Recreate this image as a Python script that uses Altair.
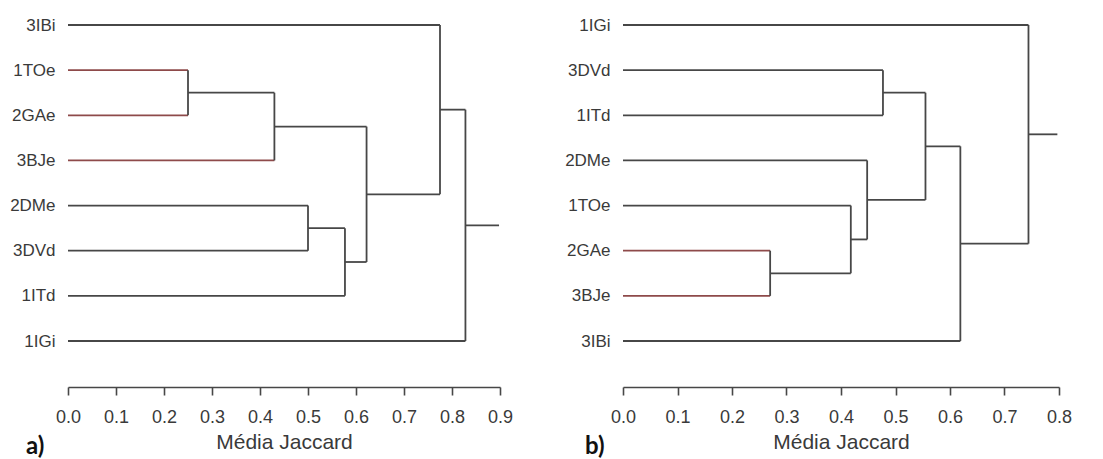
import json
import altair as alt
import pandas as pd

# ---- data -----------------------------------------------------------
# panel a) leaf order (top to bottom) and merges (child, child, height)
leaves_a = ["3IBi", "1TOe", "2GAe", "3BJe", "2DMe", "3DVd", "1ITd", "1IGi"]
merges_a = [
    ("1TOe", "2GAe", 0.250),
    ("m1", "3BJe", 0.430),
    ("2DMe", "3DVd", 0.500),
    ("m3", "1ITd", 0.577),
    ("m2", "m4", 0.622),
    ("3IBi", "m5", 0.775),
    ("m6", "1IGi", 0.828),
]
root_a = 0.898
red_a = ["1TOe", "2GAe", "3BJe"]
ticks_a = [0.0, 0.1, 0.2, 0.3, 0.4, 0.5, 0.6, 0.7, 0.8, 0.9]

# panel b)
leaves_b = ["1IGi", "3DVd", "1ITd", "2DMe", "1TOe", "2GAe", "3BJe", "3IBi"]
merges_b = [
    ("2GAe", "3BJe", 0.270),
    ("1TOe", "m1", 0.418),
    ("2DMe", "m2", 0.448),
    ("3DVd", "1ITd", 0.477),
    ("m4", "m3", 0.555),
    ("m5", "3IBi", 0.619),
    ("1IGi", "m6", 0.744),
]
root_b = 0.797
red_b = ["2GAe", "3BJe"]
ticks_b = [0.0, 0.1, 0.2, 0.3, 0.4, 0.5, 0.6, 0.7, 0.8]

GRAY = "#474747"
RED = "#8e4a4a"
TXT = "#3a3a3a"


def segments(leaves, merges, root, red):
    pos = {name: (float(i), 0.0) for i, name in enumerate(leaves)}  # y, height
    rows = []
    for k, (a, b, h) in enumerate(merges, start=1):
        ya, ha = pos[a]
        yb, hb = pos[b]
        rows.append(dict(x=ha, x2=h, y=ya, y2=ya, col=RED if a in red else GRAY))
        rows.append(dict(x=hb, x2=h, y=yb, y2=yb, col=RED if b in red else GRAY))
        rows.append(dict(x=h, x2=h, y=ya, y2=yb, col=GRAY))
        pos[f"m{k}"] = ((ya + yb) / 2, h)
    yr, hr = pos[f"m{len(merges)}"]
    rows.append(dict(x=hr, x2=root, y=yr, y2=yr, col=GRAY))
    return pd.DataFrame(rows)


def panel(leaves, merges, root, red, ticks, xmax, width, tag, tag_dx):
    df = segments(leaves, merges, root, red)
    label_expr = json.dumps(leaves) + "[datum.value]"
    rules = alt.Chart(df).mark_rule(strokeWidth=1.8).encode(
        x=alt.X(
            "x:Q",
            scale=alt.Scale(domain=[0, xmax], nice=False, zero=True),
            axis=alt.Axis(
                values=ticks,
                format=".1f",
                title="Média Jaccard",
                titleFontSize=21,
                titleFontWeight="normal",
                titleColor=TXT,
                titleFont="Liberation Sans",
                titlePadding=5,
                labelFont="Liberation Sans",
                labelFontSize=18,
                labelColor=TXT,
                labelPadding=13,
                labelFlush=False,
                labelOverlap=False,
                tickSize=8,
                tickColor=GRAY,
                tickWidth=1.6,
                domainColor=GRAY,
                domainWidth=1.6,
                grid=False,
                offset=46,
            ),
        ),
        x2="x2:Q",
        y=alt.Y(
            "y:Q",
            scale=alt.Scale(domain=[0, len(leaves) - 1], nice=False, zero=False, reverse=True),
            axis=alt.Axis(
                values=list(range(len(leaves))),
                labelExpr=label_expr,
                title=None,
                domain=False,
                ticks=False,
                grid=False,
                labelFont="Liberation Sans",
                labelFontSize=17,
                labelColor=TXT,
                labelPadding=13,
                minExtent=55,
                maxExtent=55,
            ),
        ),
        y2="y2:Q",
        color=alt.Color("col:N", scale=None),
    )
    tag_text = alt.Chart(pd.DataFrame({"t": [tag]})).mark_text(
        align="left", baseline="alphabetic", font="Lato", fontWeight="bold", fontSize=24, color="#111111"
    ).encode(text="t:N", x=alt.value(tag_dx), y=alt.value(429))
    return alt.layer(rules, tag_text).properties(width=width, height=316)


left = panel(leaves_a, merges_a, root_a, red_a, ticks_a, 0.9, 432, "a)", -42)
right = panel(leaves_b, merges_b, root_b, red_b, ticks_b, 0.8, 436, "b)", -38)

chart = (
    alt.hconcat(left, right, spacing=51)
    .properties(padding={"left": 9, "top": 16, "right": 5, "bottom": 5}, background="white")
    .configure_view(stroke=None)
)

chart.save("out.html", embed_options={"renderer": "svg", "actions": False})
